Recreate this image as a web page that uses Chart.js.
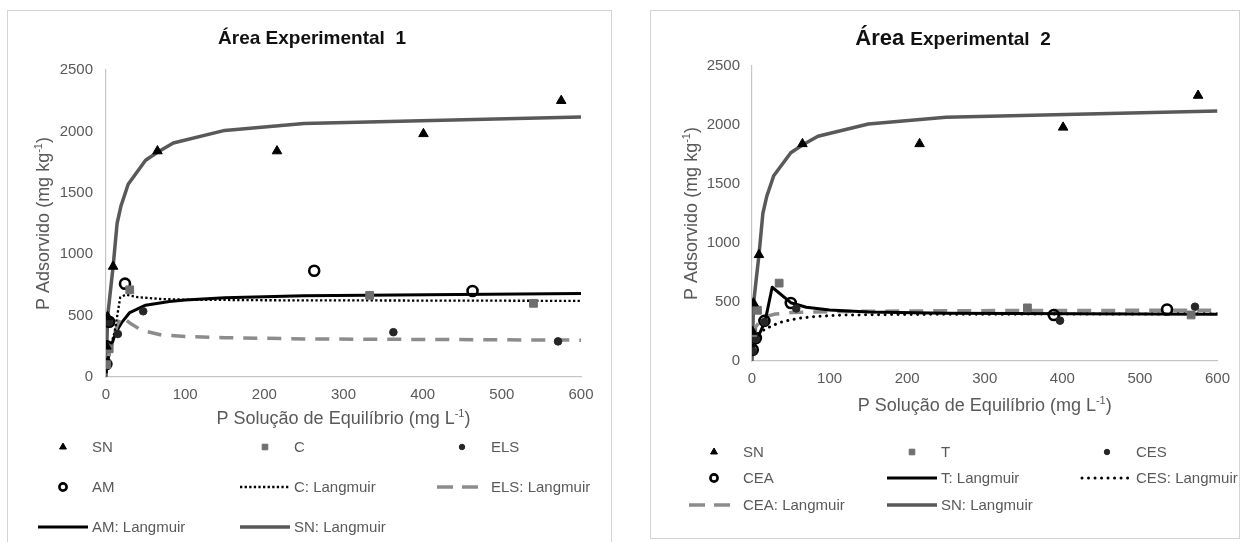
<!DOCTYPE html>
<html>
<head>
<meta charset="utf-8">
<script src="https://cdn.jsdelivr.net/npm/chart.js@4.4.0/dist/chart.umd.min.js"></script>
<style>
html,body{margin:0;padding:0;background:#fff;}
body{width:1242px;height:542px;position:relative;overflow:hidden;}
.panel{position:absolute;box-sizing:border-box;border:1px solid #d3d3d3;background:#fff;}
#p1{left:7px;top:10px;width:605px;height:545px;}
#p2{left:650px;top:10px;width:590px;height:529px;}
canvas{display:block;}
</style>
</head>
<body>
<div class="panel" id="p1"><canvas id="c1" width="603" height="543"></canvas></div>
<div class="panel" id="p2"><canvas id="c2" width="588" height="527"></canvas></div>
<script>
// ---------- data ----------
const xTicks = [0, 100, 200, 300, 400, 500, 600];
const yTicks = [0, 500, 1000, 1500, 2000, 2500];

// SN (same in both panels)
const snX  = [0.5, 2, 9, 65, 216, 401, 575];
const snY  = [250, 490, 900, 1840, 1840, 1980, 2250];
const snLX = [0, 2, 9, 14, 19, 28, 50, 65, 85, 150, 250, 600];
const snLY = [0, 490, 900, 1250, 1395, 1570, 1765, 1830, 1905, 2008, 2065, 2118];

// Área Experimental 1
const cX   = [1, 4, 30, 333, 540];
const cY   = [100, 230, 710, 665, 600];
const elsX = [0.8, 1.5, 4, 15, 47, 363, 571];
const elsY = [105, 245, 445, 350, 535, 365, 290];
const amX  = [0.5, 1, 4, 24, 263, 463];
const amY  = [105, 250, 450, 760, 865, 700];
const cLX  = [2, 6, 11, 18, 25, 40, 70, 100, 200, 600];
const cLY  = [200, 250, 370, 650, 670, 650, 635, 630, 625, 620];
const elsLX = [3, 8, 14, 20, 30, 45, 70, 100, 150, 250, 600];
const elsLY = [170, 280, 420, 490, 440, 380, 342, 330, 320, 310, 300];
const amLX = [0, 2, 5, 10, 15, 20, 30, 50, 80, 100, 150, 250, 600];
const amLY = [30, 120, 220, 320, 390, 445, 525, 585, 615, 627, 645, 662, 680];

// Área Experimental 2
const tX   = [1, 7, 35, 355, 566];
const tY   = [240, 430, 660, 450, 390];
const cesX = [1, 5, 16, 57, 397, 571];
const cesY = [85, 185, 330, 445, 342, 460];
const ceaX = [1, 5, 16, 50, 389, 535];
const ceaY = [95, 195, 340, 492, 390, 437];
const tLX  = [0, 5, 10, 17, 26, 50, 70, 100, 150, 250, 600];
const tLY  = [80, 160, 235, 340, 625, 494, 455, 432, 415, 405, 396];
const cesLX = [2, 7, 15, 26, 40, 60, 80, 110, 150, 250, 400, 600];
const cesLY = [130, 225, 262, 300, 335, 362, 376, 388, 392, 396, 398, 400];
const ceaLX = [1, 5, 10, 20, 30, 50, 80, 120, 200, 350, 600];
const ceaLY = [210, 290, 335, 380, 398, 410, 416, 420, 424, 428, 430];

const labels1 = ['SN', 'C', 'ELS', 'AM', 'C: Langmuir', 'ELS: Langmuir', 'AM: Langmuir', 'SN: Langmuir'];
const labels2 = ['SN', 'T', 'CES', 'CEA', 'T: Langmuir', 'CES: Langmuir', 'CEA: Langmuir', 'SN: Langmuir'];

// ---------- styling ----------
const FONT = "'Liberation Sans', Arial, Helvetica, sans-serif";
const TXT = '#595959';

function pts(xs, ys) { return xs.map((x, i) => ({ x: x, y: ys[i] })); }

const MK = {
  tri:    { pointStyle: 'triangle', pointRadius: 5.5, pointBackgroundColor: '#000', pointBorderColor: '#000', pointBorderWidth: 1 },
  sq:     { pointStyle: 'rect', pointRadius: 5.5, pointBackgroundColor: '#6f6f6f', pointBorderColor: '#6f6f6f', pointBorderWidth: 1 },
  dot:    { pointStyle: 'circle', pointRadius: 3.8, pointBackgroundColor: '#262626', pointBorderColor: '#262626', pointBorderWidth: 1 },
  ring:   { pointStyle: 'circle', pointRadius: 5, pointBackgroundColor: 'rgba(0,0,0,0)', pointBorderColor: '#000', pointBorderWidth: 2.6 }
};
const LN = {
  solidBlack: { borderColor: '#000', borderWidth: 3, borderDash: [], borderCapStyle: 'butt' },
  dotted1:    { borderColor: '#000', borderWidth: 2.3, borderDash: [2.3, 2.3], borderCapStyle: 'butt' },
  dotted2:    { borderColor: '#000', borderWidth: 3, borderDash: [0.01, 6.5], borderCapStyle: 'round' },
  dashed:     { borderColor: '#8c8c8c', borderWidth: 3.5, borderDash: [14, 10], borderCapStyle: 'butt', legendDash: [16, 9] },
  snLine:     { borderColor: '#595959', borderWidth: 3.5, borderDash: [], borderCapStyle: 'butt' }
};

function markerDs(label, xs, ys, st) {
  return Object.assign({ label: label, data: pts(xs, ys), showLine: false, kind: 'marker' }, st);
}
function lineDs(label, xs, ys, st) {
  return Object.assign({ label: label, data: pts(xs, ys), showLine: true, pointRadius: 0, tension: 0,
    fill: false, kind: 'line', borderJoinStyle: 'round' }, st);
}

function drawRich(ctx, parts, cx, cy, rot) {
  ctx.save();
  ctx.translate(cx, cy);
  if (rot) ctx.rotate(rot);
  let w = 0;
  parts.forEach(p => {
    ctx.font = (p.bold ? 'bold ' : '') + p.size + 'px ' + FONT;
    p._w = ctx.measureText(p.text).width;
    w += p._w;
  });
  let x = -w / 2;
  const base = parts[0].size * 0.358;
  ctx.textAlign = 'left';
  ctx.textBaseline = 'alphabetic';
  parts.forEach(p => {
    ctx.font = (p.bold ? 'bold ' : '') + p.size + 'px ' + FONT;
    ctx.fillStyle = p.color || TXT;
    ctx.fillText(p.text, x, base - (p.rise || 0));
    x += p._w;
  });
  ctx.restore();
}

function drawMarker(ctx, style, x, y, r) {
  ctx.beginPath();
  if (style === 'triangle') {
    ctx.moveTo(x, y - r);
    ctx.lineTo(x + r * 0.866, y + r * 0.5);
    ctx.lineTo(x - r * 0.866, y + r * 0.5);
    ctx.closePath();
  } else if (style === 'rect') {
    const s = r * 0.7071;
    ctx.rect(x - s, y - s, 2 * s, 2 * s);
  } else {
    ctx.arc(x, y, r, 0, Math.PI * 2);
  }
  ctx.fill();
  ctx.stroke();
}

const yTitle = [{ text: 'P Adsorvido (mg kg', size: 18 }, { text: '-1', size: 11, rise: 7 }, { text: ')', size: 18 }];
const xTitle = [{ text: 'P Solução de Equilíbrio (mg L', size: 18 }, { text: '-1', size: 11, rise: 7 }, { text: ')', size: 18 }];

function decor(cfg) {
  return {
    id: 'decor',
    afterDraw(chart) {
      const ctx = chart.ctx, ca = chart.chartArea;
      drawRich(ctx, cfg.title, cfg.titleX, cfg.titleY, 0);
      drawRich(ctx, xTitle, (ca.left + ca.right) / 2, ca.bottom + cfg.xTitleOff, 0);
      drawRich(ctx, yTitle, cfg.yTitleX, (ca.top + ca.bottom) / 2, -Math.PI / 2);
      // legend (3 columns)
      chart.data.datasets.forEach((ds, i) => {
        const tx = cfg.legCols[i % 3], ty = cfg.legRows[Math.floor(i / 3)];
        ctx.save();
        if (ds.kind === 'line') {
          ctx.beginPath();
          ctx.setLineDash(ds.legendDash || ds.borderDash || []);
          ctx.lineCap = ds.borderCapStyle || 'butt';
          ctx.lineWidth = ds.borderWidth;
          ctx.strokeStyle = ds.borderColor;
          ctx.moveTo(tx - 54, ty);
          ctx.lineTo(tx - 4, ty);
          ctx.stroke();
        } else {
          ctx.fillStyle = ds.pointBackgroundColor;
          ctx.strokeStyle = ds.pointBorderColor;
          ctx.lineWidth = ds.pointBorderWidth;
          drawMarker(ctx, ds.pointStyle, tx - 29, ty, ds.pointRadius * 0.72);
        }
        ctx.restore();
        ctx.save();
        ctx.font = '15px ' + FONT;
        ctx.fillStyle = TXT;
        ctx.textAlign = 'left';
        ctx.textBaseline = 'middle';
        ctx.fillText(ds.label, tx, ty + 1);
        ctx.restore();
      });
    }
  };
}

function scales(yWidth, yPad) {
  const tickFont = { family: FONT, size: 15 };
  return {
    x: {
      type: 'linear', min: 0, max: 600,
      afterBuildTicks: s => { s.ticks = xTicks.map(v => ({ value: v })); },
      afterFit: s => { s.height = 30; },
      grid: { display: false, drawTicks: false },
      border: { display: true, color: '#c6c6c6', width: 1.2 },
      ticks: { color: TXT, font: tickFont, padding: 9, autoSkip: false, maxRotation: 0, callback: v => String(v) }
    },
    y: {
      type: 'linear', min: 0, max: 2500,
      afterBuildTicks: s => { s.ticks = yTicks.map(v => ({ value: v })); },
      afterFit: s => { s.width = yWidth; },
      grid: { display: false, drawTicks: false },
      border: { display: true, color: '#c6c6c6', width: 1.2 },
      ticks: { color: TXT, font: tickFont, padding: yPad, autoSkip: false, callback: v => String(v) }
    }
  };
}

function baseOptions(pad, yWidth, yPad) {
  return {
    responsive: false, animation: false, devicePixelRatio: 1,
    layout: { padding: pad },
    plugins: { legend: { display: false }, tooltip: { enabled: false }, title: { display: false } },
    scales: scales(yWidth, yPad),
    elements: { line: { tension: 0 } }
  };
}

// ---------- chart 1 ----------
new Chart(document.getElementById('c1'), {
  type: 'scatter',
  data: {
    datasets: [
      markerDs(labels1[0], snX, snY, MK.tri),
      markerDs(labels1[1], cX, cY, MK.sq),
      markerDs(labels1[2], elsX, elsY, MK.dot),
      markerDs(labels1[3], amX, amY, MK.ring),
      lineDs(labels1[4], cLX, cLY, LN.dotted1),
      lineDs(labels1[5], elsLX, elsLY, LN.dashed),
      lineDs(labels1[6], amLX, amLY, LN.solidBlack),
      lineDs(labels1[7], snLX, snLY, LN.snLine)
    ]
  },
  options: baseOptions({ left: 0, right: 30, top: 59, bottom: 147 }, 98, 13),
  plugins: [decor({
    title: [{ text: 'Área Experimental  1', size: 19, bold: true, color: '#111' }],
    titleX: 304, titleY: 26,
    xTitleOff: 41, yTitleX: 35,
    legCols: [84, 286, 483], legRows: [436, 476, 516]
  })]
});

// ---------- chart 2 ----------
new Chart(document.getElementById('c2'), {
  type: 'scatter',
  data: {
    datasets: [
      markerDs(labels2[0], snX, snY, MK.tri),
      markerDs(labels2[1], tX, tY, MK.sq),
      markerDs(labels2[2], cesX, cesY, MK.dot),
      markerDs(labels2[3], ceaX, ceaY, MK.ring),
      lineDs(labels2[4], tLX, tLY, LN.solidBlack),
      lineDs(labels2[5], cesLX, cesLY, LN.dotted2),
      lineDs(labels2[6], ceaLX, ceaLY, LN.dashed),
      lineDs(labels2[7], snLX, snLY, LN.snLine)
    ]
  },
  options: baseOptions({ left: 0, right: 21, top: 55, bottom: 147 }, 101, 12),
  plugins: [decor({
    title: [{ text: 'Área ', size: 22, bold: true, color: '#111' }, { text: 'Experimental  2', size: 19, bold: true, color: '#111' }],
    titleX: 302, titleY: 26,
    xTitleOff: 44, yTitleX: 40,
    legCols: [92, 290, 485], legRows: [441, 467, 494]
  })]
});
</script>
</body>
</html>
